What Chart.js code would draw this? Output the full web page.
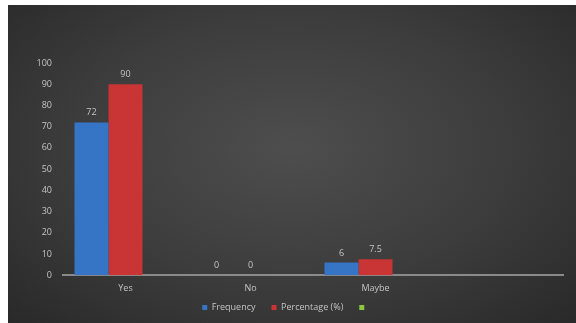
<!DOCTYPE html>
<html>
<head>
<meta charset="utf-8">
<script src="https://cdn.jsdelivr.net/npm/chart.js@4/dist/chart.umd.min.js"></script>
<style>
  html, body { margin: 0; padding: 0; background: #ffffff; }
  #wrap {
    position: absolute;
    left: 8px; top: 5px;
    width: 568px; height: 318px;
    background: radial-gradient(ellipse at 50% 45%, #4e4e4e 0%, #3c3c3c 55%, #292929 100%);
  }
</style>
</head>
<body>
<div id="wrap"><canvas id="responses" width="568" height="318"></canvas></div>
<script>
  const categories = ['Yes', 'No', 'Maybe', ''];
  const frequency = [72, 0, 6, null];
  const percentage = [90, 0, 7.5, null];
  const extraSeries = [null, null, null, null];

  const textColor = '#c4c4c4';
  const baseFont = { family: 'Open Sans, Liberation Sans, sans-serif', size: 9 };

  // value labels over each bar
  const barValues = {
    id: 'barValues',
    afterDatasetsDraw(chart) {
      const ctx = chart.ctx;
      ctx.save();
      ctx.fillStyle = textColor;
      ctx.font = '9px ' + baseFont.family;
      ctx.textAlign = 'center';
      ctx.textBaseline = 'bottom';
      chart.data.datasets.forEach((ds, i) => {
        const meta = chart.getDatasetMeta(i);
        meta.data.forEach((bar, j) => {
          const v = ds.data[j];
          if (v === null || v === undefined) return;
          ctx.fillText(String(v), bar.x, bar.y - 5);
        });
      });
      ctx.restore();
    }
  };

  // wide gaps between legend items, but keep the legend row tight under the axis
  const legendTrim = {
    id: 'legendTrim',
    beforeUpdate(chart) {
      const lg = chart.legend;
      if (lg && !lg._trimmed) {
        const fit = lg.fit;
        lg.fit = function () { fit.call(this); this.height -= 10; };
        lg._trimmed = true;
      }
    },
    afterLayout(chart) {
      if (chart.legend) {
        chart.legend.top -= 7;
        chart.legend.bottom -= 7;
      }
    }
  };

  new Chart(document.getElementById('responses').getContext('2d'), {
    type: 'bar',
    data: {
      labels: categories,
      datasets: [
        { label: 'Frequency', data: frequency, backgroundColor: '#3674c6' },
        { label: 'Percentage (%)', data: percentage, backgroundColor: '#c93434' },
        { label: '', data: extraSeries, backgroundColor: '#8cc63f' }
      ]
    },
    options: {
      responsive: false,
      animation: false,
      datasets: {
        bar: { barPercentage: 1, categoryPercentage: 0.816 }
      },
      layout: { padding: { left: 0, right: 13, top: 58, bottom: 4 } },
      scales: {
        x: {
          grid: { display: false },
          border: { color: '#8a8a8a', width: 2 },
          ticks: { color: textColor, font: baseFont, padding: 0 }
        },
        y: {
          min: 0,
          max: 100,
          grid: { display: false },
          border: { display: false },
          ticks: { stepSize: 10, color: textColor, font: baseFont, padding: 3 },
          afterFit(scale) { scale.width = 55; }
        }
      },
      plugins: {
        legend: {
          position: 'bottom',
          labels: {
            color: textColor,
            font: baseFont,
            boxWidth: 5,
            boxHeight: 5,
            padding: 16
          }
        },
        tooltip: { enabled: false }
      }
    },
    plugins: [barValues, legendTrim]
  });
</script>
</body>
</html>
